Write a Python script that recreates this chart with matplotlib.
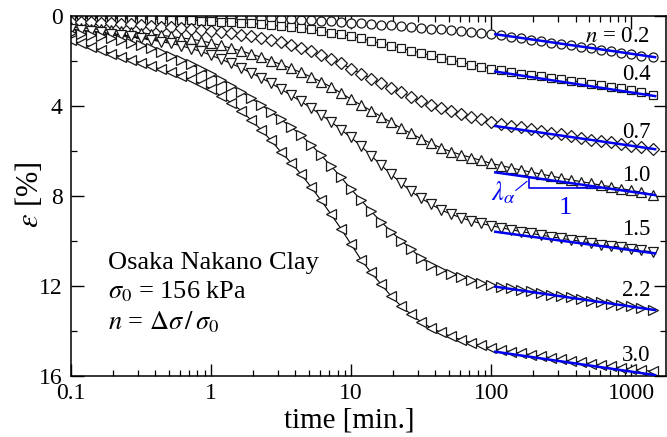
import numpy as np
import matplotlib
matplotlib.use("Agg")
import matplotlib.pyplot as plt

plt.rcParams['font.family'] = ['Liberation Serif', 'DejaVu Serif']
plt.rcParams['mathtext.fontset'] = 'stix'

# time of each reading [min.]
time = [0.1, 0.118, 0.139, 0.164, 0.193, 0.228, 0.268, 0.316, 0.373, 0.439, 0.518, 0.611, 0.72, 0.848,
        1, 1.18, 1.39, 1.64, 1.93, 2.28, 2.68, 3.16, 3.73, 4.39, 5.18, 6.11, 7.2, 8.48,
        10, 11.8, 13.9, 16.4, 19.3, 22.8, 26.8, 31.6, 37.3, 43.9, 51.8, 61.1, 72, 84.8,
        100, 118, 139, 164, 193, 228, 268, 316, 373, 439, 518, 611, 720, 848,
        1000, 1180, 1440]

# strain [%] for each load ratio n
eps_02 = [0.02, 0.02, 0.02, 0.02, 0.025, 0.03, 0.03, 0.03, 0.035, 0.04, 0.04, 0.04, 0.045, 0.05,
          0.05, 0.06, 0.07, 0.075, 0.085, 0.10, 0.11, 0.13, 0.15, 0.16, 0.19, 0.21, 0.24, 0.27,
          0.30, 0.33, 0.36, 0.39, 0.42, 0.45, 0.49, 0.53, 0.56, 0.60, 0.63, 0.67, 0.71, 0.76,
          0.80, 0.86, 0.93, 0.99, 1.05, 1.12, 1.18, 1.25, 1.31, 1.37, 1.44, 1.50, 1.57, 1.63,
          1.70, 1.76, 1.84]
eps_04 = [0.08, 0.08, 0.09, 0.09, 0.10, 0.11, 0.12, 0.13, 0.14, 0.15, 0.16, 0.18, 0.19, 0.21,
          0.22, 0.25, 0.27, 0.30, 0.33, 0.37, 0.41, 0.45, 0.49, 0.54, 0.60, 0.67, 0.74, 0.82,
          0.90, 1.00, 1.11, 1.22, 1.33, 1.43, 1.54, 1.65, 1.75, 1.86, 1.96, 2.06, 2.16, 2.25,
          2.34, 2.42, 2.49, 2.56, 2.62, 2.68, 2.74, 2.80, 2.87, 2.94, 3.01, 3.08, 3.15, 3.22,
          3.30, 3.38, 3.50]
eps_07 = [0.25, 0.27, 0.28, 0.30, 0.33, 0.35, 0.37, 0.40, 0.43, 0.47, 0.50, 0.54, 0.58, 0.63,
          0.67, 0.71, 0.77, 0.84, 0.91, 0.99, 1.07, 1.17, 1.28, 1.41, 1.55, 1.72, 1.91, 2.11,
          2.34, 2.56, 2.78, 3.00, 3.20, 3.40, 3.59, 3.77, 3.94, 4.07, 4.23, 4.36, 4.48, 4.58,
          4.69, 4.78, 4.87, 4.94, 5.03, 5.11, 5.18, 5.26, 5.34, 5.41, 5.49, 5.55, 5.62, 5.69,
          5.76, 5.83, 5.92]
eps_10 = [0.50, 0.53, 0.56, 0.60, 0.64, 0.67, 0.72, 0.75, 0.80, 0.86, 0.91, 0.97, 1.03, 1.10,
          1.20, 1.31, 1.43, 1.55, 1.69, 1.83, 1.99, 2.15, 2.33, 2.51, 2.71, 2.92, 3.16, 3.42,
          3.70, 3.96, 4.21, 4.47, 4.73, 4.99, 5.22, 5.45, 5.66, 5.87, 6.03, 6.17, 6.29, 6.42,
          6.55, 6.65, 6.75, 6.85, 6.94, 7.03, 7.11, 7.20, 7.29, 7.36, 7.44, 7.52, 7.59, 7.67,
          7.75, 7.83, 7.94]
eps_15 = [0.60, 0.64, 0.68, 0.73, 0.78, 0.84, 0.90, 0.99, 1.06, 1.14, 1.22, 1.32, 1.45, 1.57,
          1.75, 1.92, 2.11, 2.31, 2.53, 2.75, 2.99, 3.25, 3.53, 3.80, 4.09, 4.40, 4.70, 5.06,
          5.40, 5.79, 6.21, 6.63, 7.04, 7.43, 7.80, 8.10, 8.37, 8.62, 8.81, 8.97, 9.11, 9.22,
          9.32, 9.41, 9.50, 9.58, 9.66, 9.74, 9.81, 9.88, 9.95, 10.02, 10.09, 10.16, 10.22, 10.28,
          10.34, 10.41, 10.50]
eps_22 = [0.75, 0.79, 0.84, 0.91, 0.98, 1.07, 1.18, 1.30, 1.43, 1.58, 1.76, 1.95, 2.15, 2.37,
          2.60, 2.84, 3.09, 3.36, 3.65, 3.95, 4.26, 4.60, 4.94, 5.30, 5.72, 6.19, 6.67, 7.17,
          7.70, 8.19, 8.68, 9.15, 9.58, 9.98, 10.36, 10.76, 11.05, 11.28, 11.46, 11.60, 11.74, 11.87,
          11.96, 12.04, 12.11, 12.18, 12.24, 12.31, 12.38, 12.45, 12.51, 12.58, 12.65, 12.71, 12.78, 12.85,
          12.91, 12.98, 13.07]
eps_30 = [1.07, 1.22, 1.37, 1.52, 1.67, 1.81, 1.94, 2.08, 2.22, 2.37, 2.51, 2.66, 2.82, 3.02,
          3.24, 3.57, 3.85, 4.21, 4.62, 5.06, 5.53, 6.05, 6.52, 7.03, 7.60, 8.20, 8.82, 9.46,
          10.15, 10.84, 11.40, 11.93, 12.45, 12.90, 13.26, 13.60, 13.86, 14.06, 14.24, 14.39, 14.52, 14.64,
          14.76, 14.85, 14.92, 14.99, 15.05, 15.12, 15.19, 15.26, 15.33, 15.39, 15.45, 15.51, 15.57, 15.63,
          15.68, 15.73, 15.80]

n_labels = ['0.2', '0.4', '0.7', '1.0', '1.5', '2.2', '3.0']
markers = ['o', 's', 'D', '^', 'v', '>', '<']
curves = [eps_02, eps_04, eps_07, eps_10, eps_15, eps_22, eps_30]

# secondary compression fit lines (blue), start and end
fit_t = [107, 1480]
fit_02 = [0.81, 1.83]
fit_04 = [2.47, 3.56]
fit_07 = [4.89, 5.92]
fit_10 = [6.95, 7.96]
fit_15 = [9.59, 10.55]
fit_22 = [12.03, 13.07]
fit_30 = [14.92, 15.96]
fits = [fit_02, fit_04, fit_07, fit_10, fit_15, fit_22, fit_30]

# label positions (strain) for n values
label_eps = [0.93, 2.62, 5.16, 7.07, 9.51, 12.18, 15.07]

# slope triangle for lambda_alpha
tri_t = [185, 185, 600]
tri_eps = [7.16, 7.66, 7.66]

fig = plt.figure(figsize=(6.67, 4.37), dpi=100)
ax = fig.add_axes([0.1064, 0.1396, 0.8926, 0.8238])

sizes = {'o': 6.5, 's': 6.0, 'D': 5.8}
for eps, mk in zip(curves, markers):
    ax.plot(time, eps, color='black', lw=0.8, marker=mk, ms=sizes.get(mk, 6.8),
            mfc='white', mec='#1a1a1a', mew=0.9, zorder=2)

for f in fits:
    ax.plot(fit_t, f, color='#0000ee', lw=1.8, zorder=3)

ax.plot(tri_t, tri_eps, color='#0000ee', lw=1.2, zorder=3)

for i, (lab, y) in enumerate(zip(n_labels, label_eps)):
    txt = r'$n$ = ' + lab if i == 0 else lab
    ax.text(1370, y, txt, ha='right', va='center', fontsize=16.5, zorder=4)

ax.text(150, 7.85, r'$\lambda_\alpha$', color='#0000ee', fontsize=19,
        ha='right', va='center')
ax.plot([150, 180], [7.75, 7.35], color='#0000ee', lw=0.8)
ax.text(340, 8.55, '1', color='#0000ee', fontsize=19, ha='center', va='center')

ax.text(0.062, 0.314, 'Osaka Nakano Clay', transform=ax.transAxes,
        fontsize=19, va='center')
ax.text(0.062, 0.233, r'$\sigma_0$ = 156 kPa', transform=ax.transAxes,
        fontsize=19, va='center')
ax.text(0.062, 0.15, r'$n$ = $\Delta\sigma\,/\,\sigma_0$', transform=ax.transAxes,
        fontsize=19, va='center')

ax.set_xscale('log')
ax.set_xlim(0.1, 1780)
ax.set_ylim(16, 0)
ax.set_yticks([0, 4, 8, 12, 16])
ax.set_yticks([2, 6, 10, 14], minor=True)
ax.set_xticks([0.1, 1, 10, 100, 1000])
ax.set_xticklabels(['0.1', '1', '10', '100', '1000'])
ax.tick_params(which='both', direction='in', top=True, right=True, labelsize=17)
ax.tick_params(which='major', length=9, width=1.0, pad=5)
ax.tick_params(which='minor', length=4.5, width=0.9)
ax.tick_params(axis='y', pad=6)
for s in ax.spines.values():
    s.set_linewidth(1.1)

ax.set_xlabel('time [min.]', fontsize=21, va='center')
ax.xaxis.set_label_coords(0.467, -0.125)
ax.set_ylabel(r'$\varepsilon$ [%]', fontsize=22, va='center')
ax.yaxis.set_label_coords(-0.069, 0.503)

fig.savefig('out.png', dpi=100)
